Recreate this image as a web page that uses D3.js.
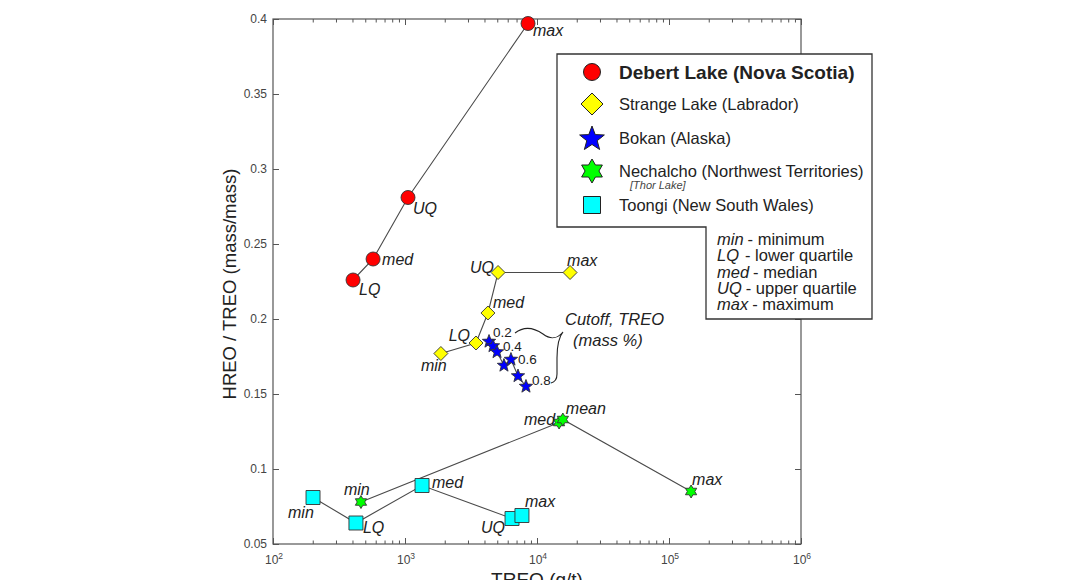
<!DOCTYPE html>
<html lang="en">
<head>
  <meta charset="UTF-8">
  <title>HREO / TREO vs TREO</title>
  <style>
    body { margin: 0; background: #fff; font-family: "Liberation Sans", Arial, sans-serif; }
    .tick-label { font-size: 12px; fill: #444; }
    .pt-label { font-size: 16px; font-style: italic; fill: #222; }
    .cut-label { font-size: 13.5px; fill: #222; }
    .link { fill: none; stroke: #4a4a4a; stroke-width: 1.1; }
    .frame { fill: none; stroke: #555; stroke-width: 1.2; }
  </style>
</head>
<body>
<div id="chart"></div>
<script src="https://d3js.org/d3.v7.min.js"></script>
<script>
// ---- data ----
const debertTags = ["LQ", "med", "UQ", "max"];
const debertTreo = [404, 573, 1054, 8550];
const debertRatio = [0.226, 0.240, 0.281, 0.397];

const strangeTags = ["min", "LQ", "med", "UQ", "max"];
const strangeTreo = [1870, 3450, 4250, 5070, 17800];
const strangeRatio = [0.177, 0.184, 0.204, 0.231, 0.231];

const bokanCutoff = [0.2, 0.3, 0.4, 0.5, 0.6, 0.7, 0.8];
const bokanTreo = [4330, 4640, 4980, 5620, 6350, 7180, 8250];
const bokanRatio = [0.185, 0.182, 0.178, 0.169, 0.173, 0.162, 0.155];
const bokanShown = ["0.2", "0.4", "0.6", "0.8"];

const nechTags = ["min", "med", "mean", "max"];
const nechTreo = [464, 14700, 15700, 147000];
const nechRatio = [0.078, 0.131, 0.133, 0.085];

const toongiTags = ["min", "LQ", "med", "UQ", "max"];
const toongiTreo = [201, 425, 1346, 6470, 7690];
const toongiRatio = [0.081, 0.064, 0.089, 0.067, 0.069];

const yTicks = [0.05, 0.1, 0.15, 0.2, 0.25, 0.3, 0.35, 0.4];
const xDecades = [2, 3, 4, 5, 6];

const legendNames = ["Debert Lake (Nova Scotia)", "Strange Lake (Labrador)", "Bokan (Alaska)",
  "Nechalcho (Northwest Territories)", "Toongi (New South Wales)"];
const abbrTags = ["min", "LQ", "med", "UQ", "max"];
const abbrText = ["minimum", "lower quartile", "median", "upper quartile", "maximum"];

// ---- layout ----
const W = 1068, H = 580;
const plotL = 273, plotR = 801, plotT = 19, plotB = 544;

const svg = d3.select('#chart').append('svg').attr('width', W).attr('height', H);

const x = d3.scaleLog().domain([100, 1e6]).range([plotL, plotR]);
const y = d3.scaleLinear().domain([0.05, 0.4]).range([plotB, plotT]);

// marker shapes
function starPath(ro, ri, n) {
  const pts = [];
  for (let i = 0; i < 2 * n; i++) {
    const a = -Math.PI / 2 + i * Math.PI / n;
    const r = i % 2 === 0 ? ro : ri;
    pts.push([r * Math.cos(a), r * Math.sin(a)]);
  }
  return 'M' + pts.map(p => p[0].toFixed(2) + ',' + p[1].toFixed(2)).join('L') + 'Z';
}
const shapes = {
  circle: s => d3.symbol(d3.symbolCircle, Math.PI * s * s)(),
  diamond: s => `M0,${-s}L${s},0L0,${s}L${-s},0Z`,
  star: s => starPath(s, s * 0.42, 5),
  hexa: s => starPath(s, s / Math.sqrt(3), 6),
  square: s => `M${-s},${-s}H${s}V${s}H${-s}Z`
};

// frame + ticks
const minorX = [];
xDecades.slice(0, -1).forEach(e => { for (let k = 2; k < 10; k++) minorX.push(k * Math.pow(10, e)); });
const majorX = xDecades.map(e => Math.pow(10, e));

function noDomain(g) { g.select('.domain').remove(); }
svg.append('g').attr('transform', `translate(0,${plotB})`)
  .call(d3.axisBottom(x).tickValues(majorX).tickSize(-6).tickFormat('')).call(noDomain);
svg.append('g').attr('transform', `translate(0,${plotB})`)
  .call(d3.axisBottom(x).tickValues(minorX).tickSize(-3.5).tickFormat('')).call(noDomain);
svg.append('g').attr('transform', `translate(0,${plotT})`)
  .call(d3.axisTop(x).tickValues(majorX).tickSize(-6).tickFormat('')).call(noDomain);
svg.append('g').attr('transform', `translate(0,${plotT})`)
  .call(d3.axisTop(x).tickValues(minorX).tickSize(-3.5).tickFormat('')).call(noDomain);
svg.append('g').attr('transform', `translate(${plotL},0)`)
  .call(d3.axisLeft(y).tickValues(yTicks).tickSize(-6).tickFormat('')).call(noDomain);
svg.append('g').attr('transform', `translate(${plotR},0)`)
  .call(d3.axisRight(y).tickValues(yTicks).tickSize(-6).tickFormat('')).call(noDomain);
svg.selectAll('.tick line').attr('stroke', '#555');

svg.append('rect').classed('frame', true)
  .attr('x', plotL).attr('y', plotT).attr('width', plotR - plotL).attr('height', plotB - plotT);

// tick labels
svg.append('g').selectAll('text').data(yTicks).join('text')
  .classed('tick-label', true)
  .attr('x', plotL - 6).attr('y', d => y(d) + 4).attr('text-anchor', 'end')
  .text(d => String(+d.toFixed(2)));

const xl = svg.append('g').selectAll('text').data(xDecades).join('text')
  .classed('tick-label', true)
  .attr('x', d => x(Math.pow(10, d)) - 8).attr('y', plotB + 20);
xl.append('tspan').text('10');
xl.append('tspan').attr('dy', -5).attr('font-size', 8.5).text(d => d);

// axis titles
svg.append('text')
  .attr('transform', `translate(236,284) rotate(-90)`)
  .attr('text-anchor', 'middle').attr('font-size', 18.5).attr('fill', '#222')
  .text('HREO / TREO (mass/mass)');
svg.append('text')
  .attr('x', 537).attr('y', 586).attr('text-anchor', 'middle')
  .attr('font-size', 19).attr('fill', '#222')
  .text('TREO (g/t)');

// series
const series = [
  { tags: debertTags, tx: debertTreo, ry: debertRatio, shape: 'circle', size: 7, fill: '#ff0000',
    off: [[6, 15], [9, 6], [5, 16], [5, 12]], anchor: ['start', 'start', 'start', 'start'] },
  { tags: strangeTags, tx: strangeTreo, ry: strangeRatio, shape: 'diamond', size: 7, fill: '#ffff00',
    off: [[-20, 17], [-6, -2], [5, -5], [-4, 0], [-3, -7]], anchor: ['start', 'end', 'start', 'end', 'start'] },
  { tags: bokanCutoff.map(String), tx: bokanTreo, ry: bokanRatio, shape: 'star', size: 7, fill: '#0000ff',
    off: [[4, -5], [0, 0], [6, -1], [0, 0], [7, 4], [0, 0], [6, -2]], anchor: Array(7).fill('start'), numeric: true },
  { tags: nechTags, tx: nechTreo, ry: nechRatio, shape: 'hexa', size: 6.5, fill: '#00ff00',
    off: [[-17, -7], [-4, 2], [3, -6], [1, -7]], anchor: ['start', 'end', 'start', 'start'] },
  { tags: toongiTags, tx: toongiTreo, ry: toongiRatio, shape: 'square', size: 7, fill: '#00ffff',
    off: [[-25, 20], [7, 10], [10, 2], [-7, 14], [3, -9]], anchor: ['start', 'start', 'start', 'end', 'start'] }
];

const line = d3.line().x(d => x(d[0])).y(d => y(d[1]));
series.forEach(s => {
  const pts = s.tx.map((v, i) => [v, s.ry[i]]);
  svg.append('path').classed('link', true).attr('d', line(pts));
});

series.forEach(s => {
  const pts = s.tx.map((v, i) => ({ v, r: s.ry[i], tag: s.tags[i], off: s.off[i], anchor: s.anchor[i] }));
  svg.append('g').selectAll('path').data(pts).join('path')
    .attr('d', shapes[s.shape](s.size))
    .attr('transform', d => `translate(${x(d.v)},${y(d.r)})`)
    .attr('fill', s.fill).attr('stroke', '#333').attr('stroke-width', 0.9);

  const lab = s.numeric ? pts.filter(d => bokanShown.includes(d.tag)) : pts;
  svg.append('g').selectAll('text').data(lab).join('text')
    .classed(s.numeric ? 'cut-label' : 'pt-label', true)
    .attr('x', d => x(d.v) + d.off[0]).attr('y', d => y(d.r) + d.off[1])
    .attr('text-anchor', d => d.anchor)
    .text(d => d.tag);
});

// cutoff brace + note
svg.append('path')
  .attr('d', 'M515,333 C524,326 533,327 543,334 C551,340 557,339 563,332 C558,338 557,346 557,358 L557,374 C557,380 555,382 551,383')
  .attr('fill', 'none').attr('stroke', '#222').attr('stroke-width', 1.1);
svg.append('text').attr('x', 565).attr('y', 325).attr('font-size', 16.5).attr('font-style', 'italic')
  .attr('fill', '#222').text('Cutoff, TREO');
svg.append('text').attr('x', 573).attr('y', 346).attr('font-size', 16.5).attr('font-style', 'italic')
  .attr('fill', '#222').text('(mass %)');

// legend panel
svg.append('path')
  .attr('d', 'M557,54 H872 V319 H706 V227 H557 Z')
  .attr('fill', '#fff').attr('stroke', '#333').attr('stroke-width', 1.3);

const legShapes = ['circle', 'diamond', 'star', 'hexa', 'square'];
const legSizes = [8.5, 11, 13, 12, 8.5];
const legFills = series.map(s => s.fill);
const legY = [72, 104, 138, 171, 205];
const lg = svg.append('g');
lg.selectAll('path').data(legendNames).join('path')
  .attr('d', (d, i) => shapes[legShapes[i]](legSizes[i]))
  .attr('transform', (d, i) => `translate(592,${legY[i] + (i === 2 ? 1 : 0)})`)
  .attr('fill', (d, i) => legFills[i]).attr('stroke', '#222').attr('stroke-width', 1);
lg.selectAll('text').data(legendNames).join('text')
  .attr('x', 619).attr('y', (d, i) => legY[i] + (i === 0 ? 7 : 6))
  .attr('font-size', (d, i) => i === 0 ? 19 : 16.5)
  .attr('font-weight', (d, i) => i === 0 ? 'bold' : 'normal')
  .attr('fill', '#222')
  .text(d => d);
lg.append('text').attr('x', 630).attr('y', 189).attr('font-size', 11).attr('font-style', 'italic')
  .attr('fill', '#444').text('[Thor Lake]');

const ab = svg.append('g').selectAll('text').data(abbrTags).join('text')
  .attr('x', 717).attr('y', (d, i) => 245 + i * 16.3)
  .attr('font-size', 16.5).attr('fill', '#222');
ab.append('tspan').attr('class', 'abbr').attr('font-style', 'italic').text(d => d);
ab.append('tspan').attr('class', 'desc').text((d, i) => '- ' + abbrText[i]);
ab.each(function () {
  const t = d3.select(this);
  const w = t.select('.abbr').node().getComputedTextLength();
  t.select('.desc').attr('x', Math.max(745, 717 + w + 4));
});
</script>
</body>
</html>
